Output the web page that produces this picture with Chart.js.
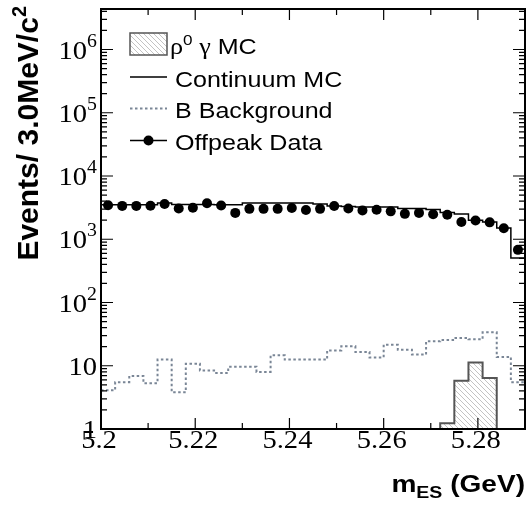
<!DOCTYPE html>
<html>
<head>
<meta charset="utf-8">
<script src="https://cdn.jsdelivr.net/npm/chart.js@4.4.1/dist/chart.umd.min.js"></script>
<style>
  html, body { margin: 0; padding: 0; background: #fff; }
  #mes { display: block; }
</style>
</head>
<body>
<canvas id="mes" width="530" height="506"></canvas>
<script>
// histogram binning: 30 bins of 3 MeV from 5.20 GeV
const BIN_LOW = 5.2;
const BIN_WIDTH = 0.003;
const X_MIN = 5.2;
const X_MAX = 5.29;
const Y_MIN = 1;
const Y_MAX = 4.37e6;

// events per bin
const offpeakData = [3450, 3370, 3370, 3390, 3600, 3060, 3150, 3720, 3410, 2610,
  3025, 3025, 3025, 3110, 2900, 3025, 3350, 3060, 2860, 2935,
  2760, 2520, 2610, 2490, 2445, 1875, 1980, 1850, 1490, 680];
const continuumMC = [3510, 3510, 3510, 3510, 3730, 3550, 3550, 3550, 3510, 3510,
  3730, 3730, 3730, 3730, 3730, 3600, 3350, 3300, 3250, 3250,
  3250, 3070, 3070, 2950, 2650, 2500, 2000, 1880, 1500, 505];
const bBackground = [4.1, 5.5, 6.9, 5.3, 12.5, 3.8, 10.8, 8.4, 7.7, 9.6,
  9.6, 8.0, 14.6, 12.5, 12.5, 12.5, 17.5, 20.3, 16.5, 13.5,
  21.5, 17.9, 15.0, 24.3, 25.5, 27.5, 26.2, 33.8, 13.8, 5.5];
const rhoGammaMC = [0, 0, 0, 0, 0, 0, 0, 0, 0, 0,
  0, 0, 0, 0, 0, 0, 0, 0, 0, 0,
  0, 0, 0, 0, 1.23, 5.8, 11.3, 6.4, 0, 0];

// axis ticks
const xMajorTicks = [5.2, 5.22, 5.24, 5.26, 5.28];
const xTickLabels = ["5.2", "5.22", "5.24", "5.26", "5.28"];
const xMinorTicks = [5.21, 5.23, 5.25, 5.27];
const yDecades = [0, 1, 2, 3, 4, 5, 6];

const SERIF = '"Liberation Serif", "Times New Roman", serif';
const SANS = '"Liberation Sans", Arial, sans-serif';
const B_COLOR = "#7a8696";
const HATCH_EDGE = "#555555";

function binEdge(i) {
  return Math.round((BIN_LOW + i * BIN_WIDTH) * 1e4) / 1e4;
}

function binCenter(i) {
  return BIN_LOW + (i + 0.5) * BIN_WIDTH;
}

// points for a stepped line: one at each left edge + closing right edge
function histPoints(values) {
  const pts = values.map((v, i) => ({ x: binEdge(i), y: v }));
  pts.push({ x: binEdge(values.length), y: values[values.length - 1] });
  return pts;
}

// same, but only over the filled bins and dropping to the axis on both sides
function filledHistPoints(values) {
  const first = values.findIndex((v) => v > 0);
  let last = values.length - 1;
  while (last > first && !(values[last] > 0)) last--;
  const pts = [{ x: binEdge(first), y: Y_MIN }];
  for (let i = first; i <= last; i++) pts.push({ x: binEdge(i), y: values[i] });
  pts.push({ x: binEdge(last + 1), y: values[last] });
  pts.push({ x: binEdge(last + 1), y: Y_MIN });
  return pts;
}

function makeHatch() {
  const s = 5;
  const c = document.createElement("canvas");
  c.width = s;
  c.height = s;
  const g = c.getContext("2d");
  g.strokeStyle = "#b4b4b4";
  g.lineWidth = 0.8;
  g.beginPath();
  g.moveTo(-1, -1); g.lineTo(s + 1, s + 1);
  g.moveTo(-1, s - 1); g.lineTo(1, s + 1);
  g.moveTo(s - 1, -1); g.lineTo(s + 1, 1);
  g.stroke();
  return g.createPattern(c, "repeat");
}

// draw a list of text runs [{text, font, dy}] stretched horizontally by sx
function drawRuns(ctx, runs, x, y, sx, align) {
  ctx.save();
  let total = 0;
  runs.forEach((r) => {
    ctx.font = r.font;
    r.w = ctx.measureText(r.text).width * sx;
    total += r.w;
  });
  let cx = x;
  if (align === "center") cx = x - total / 2;
  else if (align === "right") cx = x - total;
  ctx.textAlign = "left";
  ctx.textBaseline = "alphabetic";
  runs.forEach((r) => {
    ctx.save();
    ctx.font = r.font;
    ctx.translate(cx, y + (r.dy || 0));
    ctx.scale(sx, 1);
    ctx.fillText(r.text, 0, 0);
    ctx.restore();
    cx += r.w;
  });
  ctx.restore();
  return total;
}

const hatch = makeHatch();

const rootStyle = {
  id: "rootStyle",
  afterDraw(chart) {
    const { ctx, chartArea: a } = chart;
    const xs = chart.scales.x;
    const ys = chart.scales.y;
    ctx.save();
    ctx.fillStyle = "#000";
    ctx.strokeStyle = "#000";

    // inward ticks on all four sides
    ctx.lineWidth = 1.2;
    ctx.beginPath();
    const xTick = (v, len) => {
      const px = xs.getPixelForValue(v);
      ctx.moveTo(px, a.bottom); ctx.lineTo(px, a.bottom - len);
      ctx.moveTo(px, a.top); ctx.lineTo(px, a.top + len);
    };
    const yTick = (v, len) => {
      const py = ys.getPixelForValue(v);
      ctx.moveTo(a.left, py); ctx.lineTo(a.left + len, py);
      ctx.moveTo(a.right, py); ctx.lineTo(a.right - len, py);
    };
    xMajorTicks.forEach((v) => xTick(v, 11));
    xMinorTicks.forEach((v) => xTick(v, 6));
    yDecades.forEach((e) => {
      const base = Math.pow(10, e);
      yTick(base, 12);
      for (let m = 2; m <= 9; m++) {
        if (m * base < Y_MAX) yTick(m * base, 6);
      }
    });
    ctx.stroke();

    // frame
    ctx.lineWidth = 2;
    ctx.strokeRect(a.left, a.top, a.right - a.left, a.bottom - a.top);

    // x tick labels
    xMajorTicks.forEach((v, i) => {
      drawRuns(ctx, [{ text: xTickLabels[i], font: "26px " + SERIF }],
        xs.getPixelForValue(v) - 2, 448, 1.1, "center");
    });

    // y tick labels: 1, 10, 10^2 ... 10^6
    yDecades.forEach((e) => {
      const py = ys.getPixelForValue(Math.pow(10, e)) + 9;
      let runs;
      if (e === 0) runs = [{ text: "1", font: "26px " + SERIF }];
      else if (e === 1) runs = [{ text: "10", font: "26px " + SERIF }];
      else runs = [
        { text: "10", font: "26px " + SERIF },
        { text: String(e), font: "18px " + SERIF, dy: -12 },
      ];
      drawRuns(ctx, runs, a.left - 4, py, 1.1, "right");
    });

    // y title (rotated, ends at the top)
    ctx.save();
    ctx.translate(38, 6);
    ctx.rotate(-Math.PI / 2);
    drawRuns(ctx, [
      { text: "Events/ 3.0MeV/c", font: "bold 30px " + SANS },
      { text: "2", font: "bold 20px " + SANS, dy: -12 },
    ], 0, 0, 1, "right");
    ctx.restore();

    // x title
    drawRuns(ctx, [
      { text: "m", font: "bold 23px " + SANS },
      { text: "ES", font: "bold 16px " + SANS, dy: 6 },
      { text: " (GeV)", font: "bold 23px " + SANS },
    ], a.right, 492, 1.22, "right");

    // legend
    const lx0 = 130;
    const lx1 = 167;
    const rows = [45, 77, 108.5, 140.5];
    ctx.fillStyle = hatch;
    ctx.fillRect(lx0, 33, lx1 - lx0, 22);
    ctx.strokeStyle = HATCH_EDGE;
    ctx.lineWidth = 1.5;
    ctx.strokeRect(lx0, 33, lx1 - lx0, 22);

    ctx.strokeStyle = "#000";
    ctx.lineWidth = 1.5;
    ctx.beginPath();
    ctx.moveTo(lx0, rows[1]); ctx.lineTo(lx1, rows[1]);
    ctx.moveTo(lx0, rows[3]); ctx.lineTo(lx1, rows[3]);
    ctx.stroke();

    ctx.strokeStyle = B_COLOR;
    ctx.lineWidth = 2;
    ctx.setLineDash([2.5, 2.5]);
    ctx.beginPath();
    ctx.moveTo(lx0, rows[2]); ctx.lineTo(lx1, rows[2]);
    ctx.stroke();
    ctx.setLineDash([]);

    ctx.fillStyle = "#000";
    ctx.beginPath();
    ctx.arc((lx0 + lx1) / 2, rows[3], 5, 0, Math.PI * 2);
    ctx.fill();

    const lf = "22px " + SANS;
    drawRuns(ctx, [
      { text: "\u03C1", font: "23px " + SERIF },
      { text: "0", font: "15px " + SANS, dy: -9 },
      { text: " \u03B3", font: "23px " + SERIF },
      { text: " MC", font: lf },
    ], 170, rows[0] + 8.5, 1.14, "left");
    drawRuns(ctx, [{ text: "Continuum MC", font: lf }], 175, rows[1] + 9.5, 1.14, "left");
    drawRuns(ctx, [{ text: "B Background", font: lf }], 175, rows[2] + 9.5, 1.14, "left");
    drawRuns(ctx, [{ text: "Offpeak Data", font: lf }], 175, rows[3] + 9.5, 1.14, "left");

    ctx.restore();
  },
};

new Chart(document.getElementById("mes").getContext("2d"), {
  type: "line",
  data: {
    datasets: [
      {
        label: "Offpeak Data",
        data: offpeakData.map((v, i) => ({ x: binCenter(i), y: v })),
        showLine: false,
        pointRadius: 5,
        pointBackgroundColor: "#000",
        pointBorderWidth: 0,
        order: 0,
      },
      {
        label: "Continuum MC",
        data: histPoints(continuumMC),
        stepped: true,
        borderColor: "#000",
        borderWidth: 1.5,
        pointRadius: 0,
        fill: false,
        order: 1,
      },
      {
        label: "B Background",
        data: histPoints(bBackground),
        stepped: true,
        borderColor: B_COLOR,
        borderWidth: 2,
        borderDash: [2.5, 2.5],
        pointRadius: 0,
        fill: false,
        order: 2,
      },
      {
        label: "\u03C1\u2070 \u03B3 MC",
        data: filledHistPoints(rhoGammaMC),
        stepped: true,
        borderColor: HATCH_EDGE,
        borderWidth: 2,
        backgroundColor: hatch,
        pointRadius: 0,
        fill: "start",
        order: 3,
      },
    ],
  },
  options: {
    responsive: false,
    devicePixelRatio: 1,
    animation: false,
    layout: { padding: { left: 101, right: 3, top: 9, bottom: 77 } },
    scales: {
      x: { type: "linear", min: X_MIN, max: X_MAX, display: false },
      y: { type: "logarithmic", min: Y_MIN, max: Y_MAX, display: false },
    },
    plugins: {
      legend: { display: false },
      tooltip: { enabled: false },
    },
  },
  plugins: [rootStyle],
});
</script>
</body>
</html>
